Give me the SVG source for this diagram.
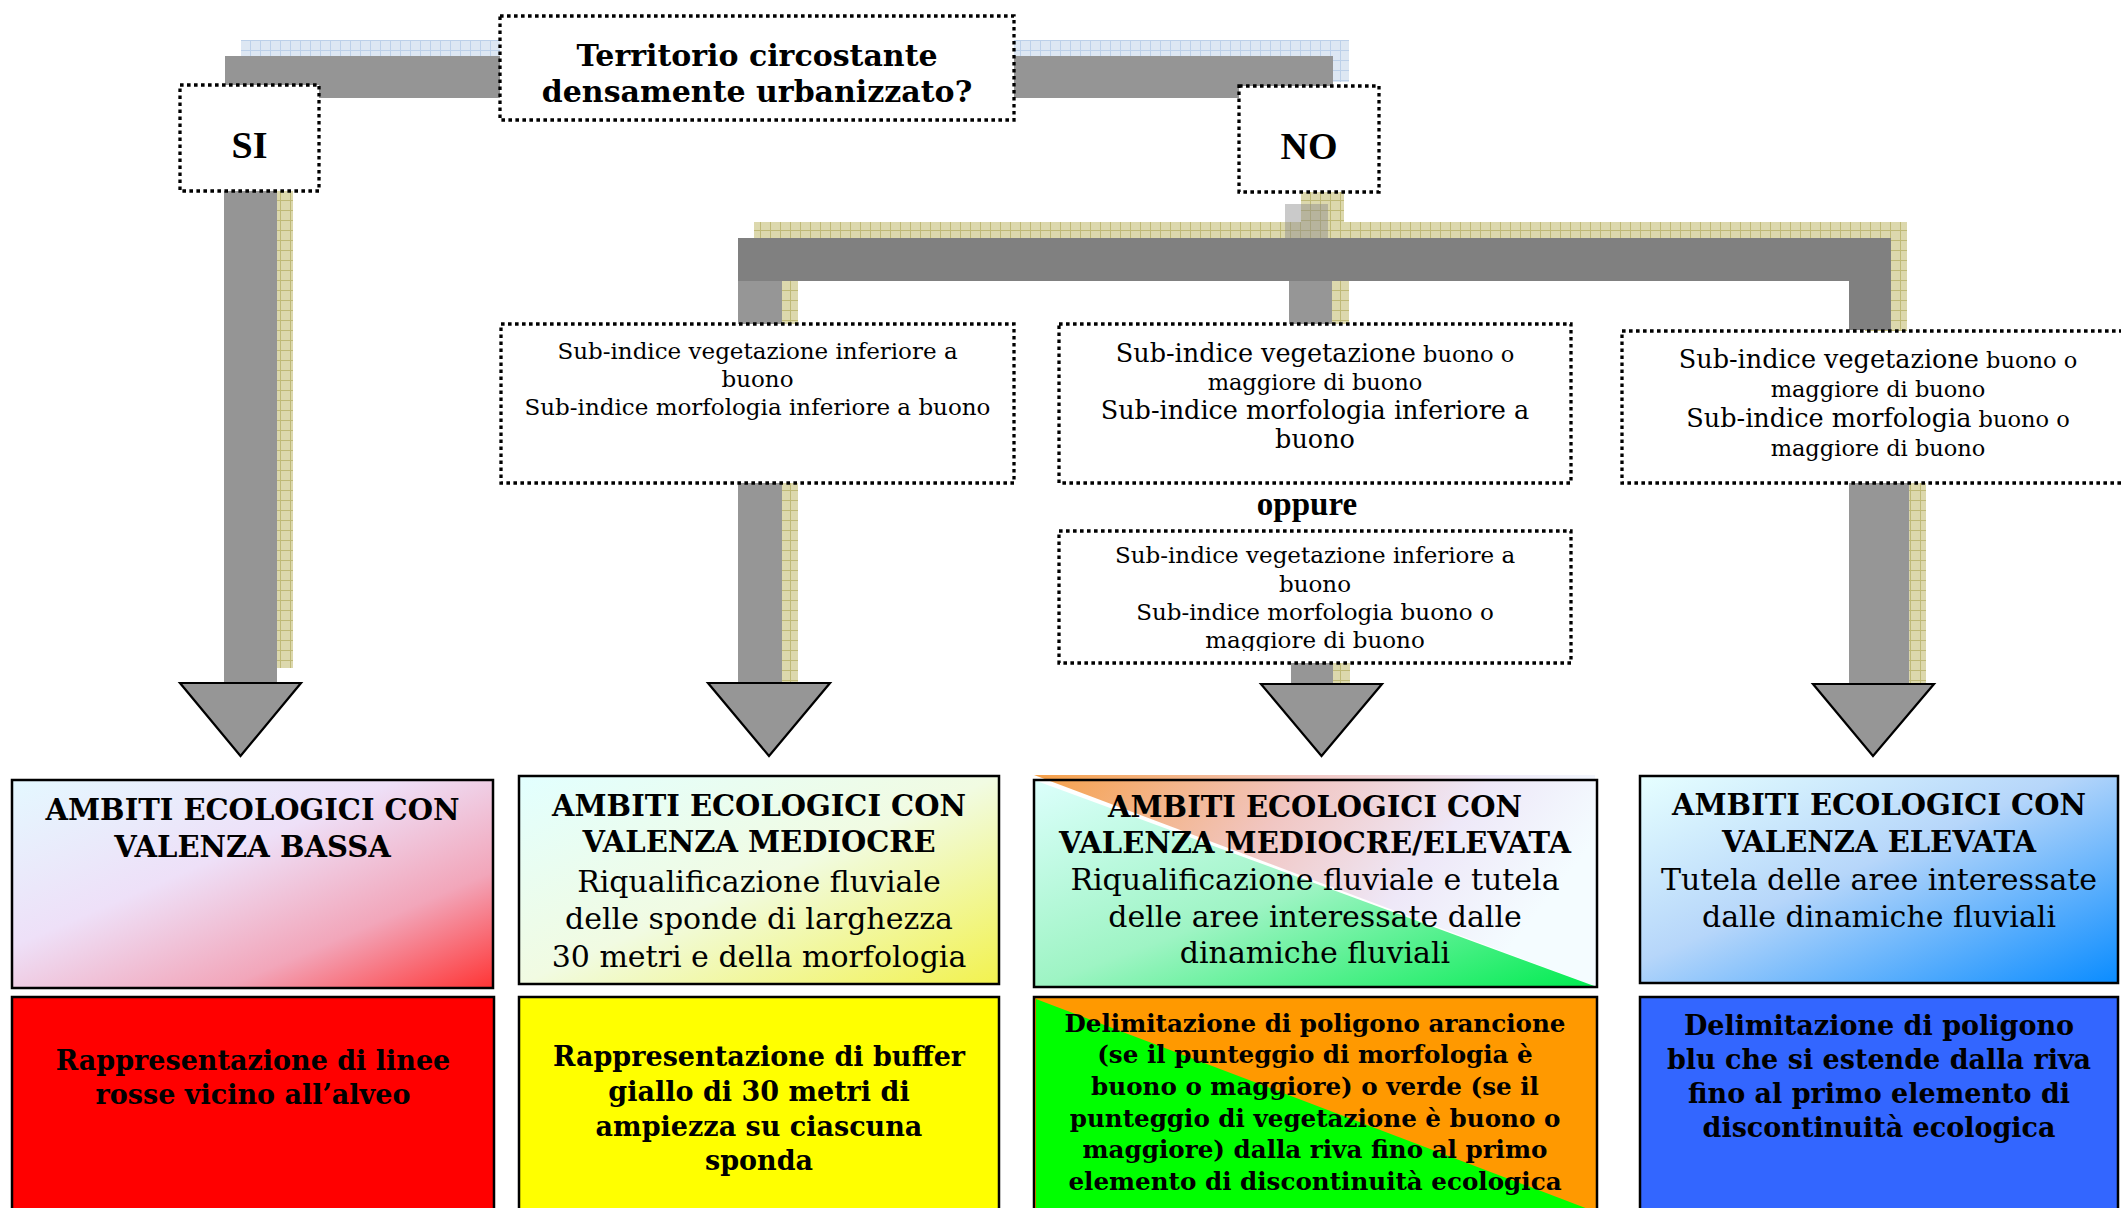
<svg xmlns="http://www.w3.org/2000/svg" width="2121" height="1208" viewBox="0 0 2121 1208">
<style>
.dot{fill:#fff;stroke:#000;stroke-width:3.3;stroke-dasharray:3.6 3.4}
.sol{stroke:#000;stroke-width:2.5}
.tri{fill:#969696;stroke:#000;stroke-width:2.2;stroke-linejoin:miter}
.bar{fill:#969696}
.bar2{fill:#808080}
text{text-anchor:middle;fill:#000}
.q{font:bold 30px 'DejaVu Serif',serif}
.yn{font:bold 38px 'Liberation Serif',serif}
.sub{font:23px 'DejaVu Serif',serif}
.sub2{font:22.5px 'DejaVu Serif',serif}
.big{font-size:25.5px}
.op{font:bold 33px 'Liberation Serif',serif}
.hd{font:bold 29px 'DejaVu Serif',serif}
.bd{font:30px 'DejaVu Serif',serif}
.bt{font:bold 27px 'DejaVu Serif',serif}
.bt2{font:bold 24.6px 'DejaVu Serif',serif}
</style>
<defs>
<pattern id="khaki" width="10" height="10" patternUnits="userSpaceOnUse"><rect width="10" height="10" fill="#dcd8ad"/><path d="M0 0.5H10M0.5 0V10" stroke="#bfb977" stroke-width="1"/></pattern>
<pattern id="blue" width="10" height="10" patternUnits="userSpaceOnUse"><rect width="10" height="10" fill="#dde7f3"/><path d="M0 0.5H10M0.5 0V10" stroke="#bcd0e9" stroke-width="1"/></pattern>
<linearGradient id="gBassa" x1="0" y1="0" x2="1" y2="1"><stop offset="0" stop-color="#e4f8ff"/><stop offset="0.4" stop-color="#eee0f8"/><stop offset="0.72" stop-color="#f2a6ba"/><stop offset="1" stop-color="#ff3434"/></linearGradient>
<linearGradient id="gMed" x1="0" y1="0" x2="1" y2="1"><stop offset="0" stop-color="#e2ffff"/><stop offset="0.5" stop-color="#f1fbe2"/><stop offset="1" stop-color="#f2f24e"/></linearGradient>
<linearGradient id="gEl" x1="0" y1="0" x2="1" y2="1"><stop offset="0" stop-color="#e6ffff"/><stop offset="0.45" stop-color="#b6d6fa"/><stop offset="1" stop-color="#0a8cff"/></linearGradient>
<linearGradient id="gUp" x1="0" y1="0" x2="1" y2="0.3"><stop offset="0" stop-color="#f6a048"/><stop offset="0.45" stop-color="#f1c6c2"/><stop offset="0.75" stop-color="#eee8f8"/><stop offset="1" stop-color="#f4fcff"/></linearGradient>
<linearGradient id="gLow" x1="0" y1="0" x2="1" y2="1"><stop offset="0" stop-color="#dcfffc"/><stop offset="0.5" stop-color="#9ef4c4"/><stop offset="1" stop-color="#00ec50"/></linearGradient>
<clipPath id="clip4"><rect x="1059" y="531" width="512" height="120"/></clipPath>
</defs>

<g id="connectors">
  <rect x="241" y="40" width="1108" height="42" fill="url(#blue)"/>
  <rect x="240" y="82" width="53" height="586" fill="url(#khaki)"/>
  <path d="M754 222H1907V340H1865V265H754Z" fill="url(#khaki)"/>
  <rect x="1301" y="192" width="43" height="32" fill="url(#khaki)"/>
  <rect x="754" y="265" width="44" height="418" fill="url(#khaki)"/>
  <rect x="1305" y="265" width="44" height="70" fill="url(#khaki)"/>
  <rect x="1305" y="640" width="45" height="43" fill="url(#khaki)"/>
  <rect x="1865" y="470" width="61" height="214" fill="url(#khaki)"/>
  <path d="M225 56H1333V98H277V683H224V98H225Z" fill="#959595"/>
  <rect x="1285" y="204" width="43" height="35" fill="#8a8a8a" opacity="0.45"/>
  <path d="M738 238H1891V330H1849V281H738Z" class="bar2"/>
  <rect x="738" y="281" width="44" height="402" class="bar"/>
  <rect x="1289" y="281" width="43" height="50" class="bar"/>
  <rect x="1291" y="640" width="42" height="44" class="bar"/>
  <rect x="1849" y="470" width="60" height="214" class="bar"/>
  <polygon class="tri" points="180,683 301,683 240.5,756"/>
  <polygon class="tri" points="708,683 830,683 769,756"/>
  <polygon class="tri" points="1261,684 1382,684 1321.5,756"/>
  <polygon class="tri" points="1813,684 1934,684 1873,756"/>
</g>

<g id="q-node">
  <rect class="dot" x="500" y="16" width="514" height="104"/>
  <text class="q" x="757" y="66">Territorio circostante</text>
  <text class="q" x="757" y="102">densamente urbanizzato?</text>
</g>
<g id="si-node">
  <rect class="dot" x="180" y="85" width="139" height="106"/>
  <text class="yn" x="249.5" y="158">SI</text>
</g>
<g id="no-node">
  <rect class="dot" x="1239" y="86" width="140" height="106"/>
  <text class="yn" x="1309" y="159">NO</text>
</g>

<g id="cond1">
  <rect class="dot" x="501" y="324" width="513" height="159"/>
  <text class="sub" x="757.5" y="359">Sub-indice vegetazione inferiore a</text>
  <text class="sub" x="757.5" y="387">buono</text>
  <text class="sub" x="757.5" y="415">Sub-indice morfologia inferiore a buono</text>
</g>
<g id="cond2">
  <rect class="dot" x="1059" y="324" width="512" height="159"/>
  <text class="sub2" x="1315" y="362"><tspan class="big">Sub-indice vegetazione</tspan> buono o</text>
  <text class="sub2" x="1315" y="390">maggiore di buono</text>
  <text class="sub2 big" x="1315" y="419">Sub-indice morfologia inferiore a</text>
  <text class="sub2 big" x="1315" y="448">buono</text>
</g>
<g id="oppure">
  <text class="op" x="1307" y="515">oppure</text>
</g>
<g id="cond2b">
  <rect class="dot" x="1059" y="531" width="512" height="132"/>
  <g clip-path="url(#clip4)">
  <text class="sub" x="1315" y="563">Sub-indice vegetazione inferiore a</text>
  <text class="sub" x="1315" y="592">buono</text>
  <text class="sub" x="1315" y="620">Sub-indice morfologia buono o</text>
  <text class="sub" x="1315" y="648">maggiore di buono</text>
  </g>
</g>
<g id="cond3">
  <rect class="dot" x="1622" y="331" width="520" height="152"/>
  <text class="sub2" x="1878" y="368"><tspan class="big">Sub-indice vegetazione</tspan> buono o</text>
  <text class="sub2" x="1878" y="397">maggiore di buono</text>
  <text class="sub2" x="1878" y="427"><tspan class="big">Sub-indice morfologia</tspan> buono o</text>
  <text class="sub2" x="1878" y="456">maggiore di buono</text>
</g>

<g id="amb-bassa">
  <rect class="sol" x="12" y="780" width="481" height="208" fill="url(#gBassa)"/>
  <text class="hd" x="252.5" y="820">AMBITI ECOLOGICI CON</text>
  <text class="hd" x="252.5" y="857">VALENZA BASSA</text>
</g>
<g id="amb-mediocre">
  <rect class="sol" x="519" y="776" width="480" height="208" fill="url(#gMed)"/>
  <text class="hd" x="759" y="816">AMBITI ECOLOGICI CON</text>
  <text class="hd" x="759" y="852">VALENZA MEDIOCRE</text>
  <text class="bd" x="759" y="892">Riqualificazione fluviale</text>
  <text class="bd" x="759" y="929">delle sponde di larghezza</text>
  <text class="bd" x="759" y="967">30 metri e della morfologia</text>
</g>
<g id="amb-medel">
  <polygon points="1034,775 1595,775 1597,987" fill="url(#gUp)"/>
  <polygon points="1034,780 1597,987 1034,987" fill="url(#gLow)"/>
  <rect class="sol" x="1034" y="780" width="563" height="207" fill="none"/>
  <text class="hd" x="1315" y="817">AMBITI ECOLOGICI CON</text>
  <text class="hd" x="1315" y="853">VALENZA MEDIOCRE/ELEVATA</text>
  <text class="bd" x="1315" y="890">Riqualificazione fluviale e tutela</text>
  <text class="bd" x="1315" y="927">delle aree interessate dalle</text>
  <text class="bd" x="1315" y="963">dinamiche fluviali</text>
</g>
<g id="amb-elevata">
  <rect class="sol" x="1640" y="776" width="478" height="207" fill="url(#gEl)"/>
  <text class="hd" x="1879" y="815">AMBITI ECOLOGICI CON</text>
  <text class="hd" x="1879" y="852">VALENZA ELEVATA</text>
  <text class="bd" x="1879" y="890">Tutela delle aree interessate</text>
  <text class="bd" x="1879" y="927">dalle dinamiche fluviali</text>
</g>

<g id="rep-rosso">
  <rect class="sol" x="12" y="997" width="482" height="230" fill="#ff0000"/>
  <text class="bt" x="253" y="1070">Rappresentazione di linee</text>
  <text class="bt" x="253" y="1104">rosse vicino all’alveo</text>
</g>
<g id="rep-giallo">
  <rect class="sol" x="519" y="997" width="480" height="230" fill="#ffff00"/>
  <text class="bt" x="759" y="1066">Rappresentazione di buffer</text>
  <text class="bt" x="759" y="1101">giallo di 30 metri di</text>
  <text class="bt" x="759" y="1136">ampiezza su ciascuna</text>
  <text class="bt" x="759" y="1170">sponda</text>
</g>
<g id="rep-arancio-verde">
  <rect class="sol" x="1034" y="997" width="563" height="230" fill="#ff9900"/>
  <polygon points="1036,999 1596,1212 1596,1226 1036,1226" fill="#00ff00"/>
  <text class="bt2" x="1315" y="1032">Delimitazione di poligono arancione</text>
  <text class="bt2" x="1315" y="1063">(se il punteggio di morfologia è</text>
  <text class="bt2" x="1315" y="1095">buono o maggiore) o verde (se il</text>
  <text class="bt2" x="1315" y="1127">punteggio di vegetazione è buono o</text>
  <text class="bt2" x="1315" y="1158">maggiore) dalla riva fino al primo</text>
  <text class="bt2" x="1315" y="1190">elemento di discontinuità ecologica</text>
</g>
<g id="rep-blu">
  <rect class="sol" x="1640" y="997" width="478" height="230" fill="#3366ff"/>
  <text class="bt" x="1879" y="1035">Delimitazione di poligono</text>
  <text class="bt" x="1879" y="1069">blu che si estende dalla riva</text>
  <text class="bt" x="1879" y="1103">fino al primo elemento di</text>
  <text class="bt" x="1879" y="1137">discontinuità ecologica</text>
</g>
</svg>
